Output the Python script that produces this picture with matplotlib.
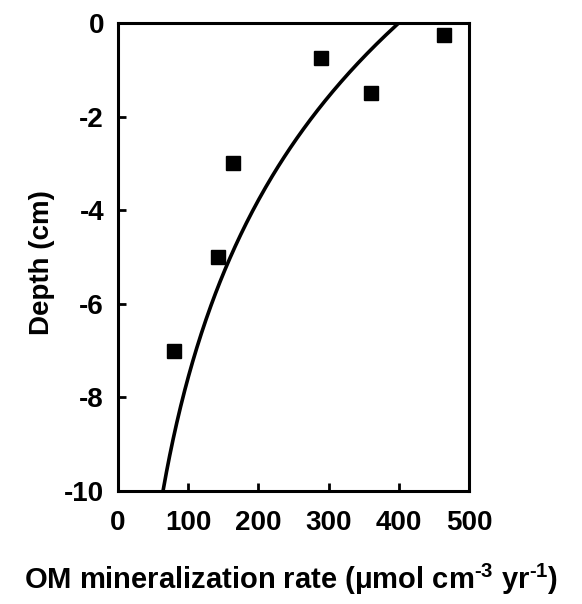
import numpy as np
import matplotlib
matplotlib.use('Agg')
import matplotlib.pyplot as plt

plt.rcParams['font.family'] = ['Liberation Sans', 'DejaVu Sans']
plt.rcParams['font.weight'] = 'bold'
plt.rcParams['axes.unicode_minus'] = False
plt.rcParams['mathtext.fontset'] = 'custom'
plt.rcParams['mathtext.rm'] = 'Liberation Sans:bold'
plt.rcParams['mathtext.bf'] = 'Liberation Sans:bold'
plt.rcParams['mathtext.default'] = 'bf'

# measured rates vs depth
rate = [464, 289, 360, 164, 142, 80]
depth = [-0.25, -0.75, -1.5, -3.0, -5.0, -7.0]

# exponential fit R = R0 * exp(alpha * z)
R0 = 400.0
alpha = 0.183

xticks = [0, 100, 200, 300, 400, 500]
yticks = [0, -2, -4, -6, -8, -10]

fig = plt.figure(figsize=(5.82, 6.04), dpi=100)
ax = fig.add_axes([0.2027, 0.1871, 0.603, 0.7748])

z = np.linspace(-10, 0, 200)
ax.plot(R0 * np.exp(alpha * z), z, color='black', linewidth=2.6)
ax.plot(rate, depth, linestyle='none', marker='s', markersize=10.5,
        color='black')

ax.set_xlim(0, 500)
ax.set_ylim(-10, 0)
ax.set_xticks(xticks)
ax.set_yticks(yticks)
for s in ax.spines.values():
    s.set_linewidth(2.2)
ax.tick_params(direction='in', length=6, width=2, labelsize=20)
ax.tick_params(axis='x', pad=14)
ax.tick_params(axis='y', pad=10)

fig.text(0.5, 0.04,
         r'OM mineralization rate ($\mu$mol cm$^{\text{-3}}$ yr$^{\text{-1}}$)',
         ha='center', va='center', fontsize=21, fontweight='bold')
fig.text(0.072, 0.565, 'Depth (cm)', rotation=90, ha='center', va='center',
         fontsize=20, fontweight='bold')

fig.savefig('out.png', dpi=100)
